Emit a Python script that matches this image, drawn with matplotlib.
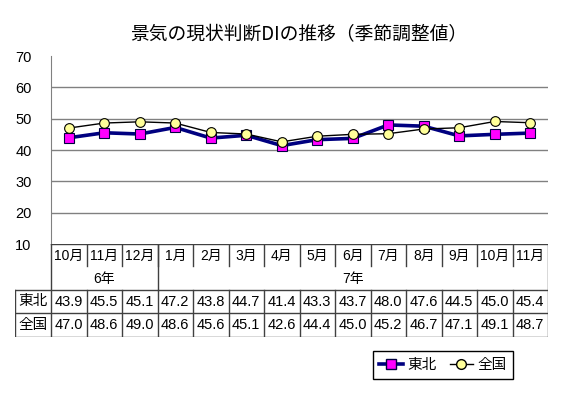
import numpy as np
import matplotlib.pyplot as plt
from matplotlib.lines import Line2D

plt.rcParams['font.family'] = ['Liberation Sans', 'Noto Sans CJK JP']

months = ['10月', '11月', '12月', '1月', '2月', '3月', '4月', '5月', '6月', '7月',
          '8月', '9月', '10月', '11月']
years = [('6年', 0, 2), ('7年', 3, 13)]
tohoku = [43.9, 45.5, 45.1, 47.2, 43.8, 44.7, 41.4, 43.3, 43.7, 48.0, 47.6, 44.5, 45.0, 45.4]
zenkoku = [47.0, 48.6, 49.0, 48.6, 45.6, 45.1, 42.6, 44.4, 45.0, 45.2, 46.7, 47.1, 49.1, 48.7]
rows = [('東北', tohoku), ('全国', zenkoku)]
yticks = [10, 20, 30, 40, 50, 60, 70]

W, H = 563, 394
fig = plt.figure(figsize=(W / 100, H / 100), dpi=100)


def box(l, t, r, b):
    # pixel box -> figure fraction
    return [l / W, 1 - b / H, (r - l) / W, (b - t) / H]


x = np.arange(len(months))

# --- chart
ax = fig.add_axes(box(51, 56, 548, 244))
ax.plot(x, tohoku, color='#000080', lw=2.6, marker='s', ms=6.8,
        mfc='#FF00FF', mec='#000040', mew=0.8, zorder=3)
ax.plot(x, zenkoku, color='black', lw=1.0, marker='o', ms=7,
        mfc='#FFFF99', mec='black', mew=0.8, zorder=4)
ax.set_xlim(-0.5, len(months) - 0.5)
ax.set_ylim(yticks[0], yticks[-1])
ax.set_yticks(yticks)
ax.set_xticks([])
ax.tick_params(axis='y', length=0, pad=14, labelsize=10.5)
ax.yaxis.grid(True, color='#808080', lw=1.0)
gl = ax.get_ygridlines()
gl[0].set_visible(False)
gl[-1].set_visible(False)
for s in ['top', 'right', 'bottom']:
    ax.spines[s].set_visible(False)
ax.spines['left'].set_color('#808080')

fig.text(299 / W, 1 - 35 / H, '景気の現状判断DIの推移（季節調整値）',
         ha='center', va='center', fontsize=13.5, family=['Noto Sans CJK JP'])

# --- data table below the chart
colw = (548 - 51) / len(months)
lw_ = (51 - 15) / colw
n = len(months)
tab = fig.add_axes(box(15, 244, 548, 337))
tab.set_xlim(-0.5 - lw_, n - 0.5)
tab.set_ylim(93, 0)
tab.axis('off')
yb = [0, 22, 46, 69, 93]
lc = '#404040'
lk = dict(color=lc, lw=1.0)
tab.plot([-0.5, n - 0.5], [0, 0], **lk)
tab.plot([-0.5, -0.5], [0, yb[-1]], **lk)
tab.plot([n - 0.5, n - 0.5], [0, yb[-1]], **lk)
for yy in yb[2:]:
    tab.plot([-0.5 - lw_, n - 0.5], [yy, yy], **lk)
tab.plot([-0.5 - lw_, -0.5 - lw_], [yb[2], yb[-1]], **lk)
for i in range(n - 1):
    xs = i + 0.5
    tab.plot([xs, xs], [0, yb[1]], **lk)
    tab.plot([xs, xs], [yb[2], yb[-1]], **lk)
for lab, a, b in years:
    if b < n - 1:
        tab.plot([b + 0.5, b + 0.5], [0, yb[2]], **lk)
    tab.text((a + b) / 2, (yb[1] + yb[2]) / 2 + 1, lab, ha='center', va='center', fontsize=10)
for i, m in enumerate(months):
    tab.text(i, yb[1] / 2 + 1, m, ha='center', va='center', fontsize=10)
for r, (name, vals) in enumerate(rows):
    yc = (yb[2 + r] + yb[3 + r]) / 2
    tab.text(-0.5 - lw_ / 2, yc, name, ha='center', va='center', fontsize=10.5,
             family=['Noto Sans CJK JP'])
    for i, v in enumerate(vals):
        tab.text(i, yc, f'{v:.1f}', ha='center', va='center', fontsize=10.5)

# --- legend
handles = [
    Line2D([], [], color='#000080', lw=2.6, marker='s', ms=6.8, mfc='#FF00FF', mec='#000040'),
    Line2D([], [], color='black', lw=1.0, marker='o', ms=7, mfc='#FFFF99', mec='black'),
]
fig.legend(handles, [r[0] for r in rows], ncol=2, loc='center',
           bbox_to_anchor=(443 / W, 1 - 365 / H), fancybox=False, framealpha=1,
           edgecolor='black', handlelength=1.6, handletextpad=0.3, columnspacing=0.9,
           borderpad=0.45, prop={'family': 'Noto Sans CJK JP', 'size': 10.5})

fig.savefig('out.png', dpi=100)
